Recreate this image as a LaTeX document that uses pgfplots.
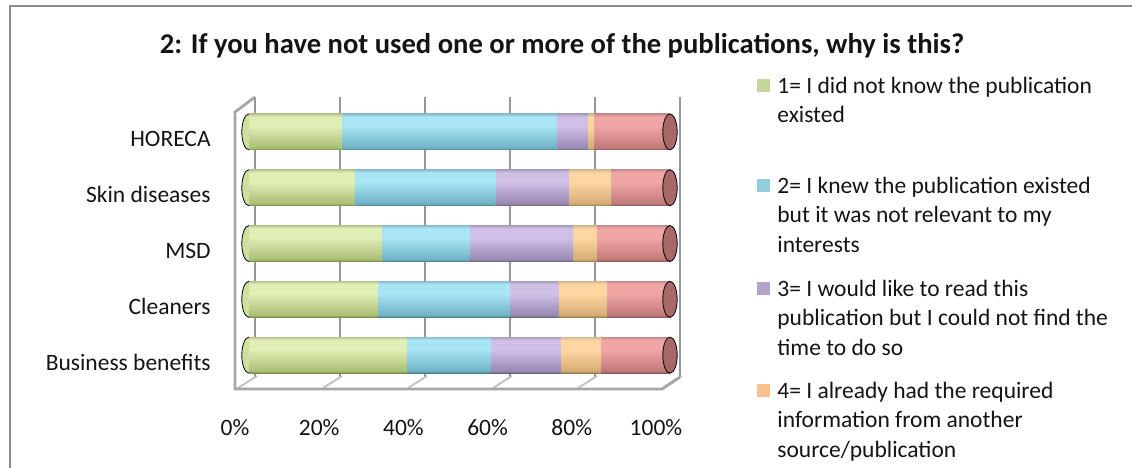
\documentclass[border=0pt]{standalone}
\usepackage{fontspec}
\setmainfont{Carlito}
\usepackage{pgfplots}
\pgfplotsset{compat=1.18}

\definecolor{gT}{RGB}{185,200,145}\definecolor{gL}{RGB}{224,239,182}\definecolor{gD}{RGB}{170,190,115}\definecolor{gE}{RGB}{120,135,80}
\definecolor{bT}{RGB}{140,190,205}\definecolor{bL}{RGB}{168,230,246}\definecolor{bD}{RGB}{112,178,198}\definecolor{bE}{RGB}{75,125,140}
\definecolor{pT}{RGB}{170,160,190}\definecolor{pL}{RGB}{207,192,230}\definecolor{pD}{RGB}{152,138,178}\definecolor{pE}{RGB}{105,95,125}
\definecolor{oT}{RGB}{215,185,140}\definecolor{oL}{RGB}{253,214,162}\definecolor{oD}{RGB}{214,172,116}\definecolor{oE}{RGB}{150,120,80}
\definecolor{rT}{RGB}{200,140,140}\definecolor{rL}{RGB}{241,166,166}\definecolor{rD}{RGB}{192,122,122}\definecolor{rE}{RGB}{135,85,85}
\definecolor{capR}{RGB}{168,104,104}
\definecolor{capG}{RGB}{205,224,158}
\definecolor{lgG}{RGB}{195,214,155}
\definecolor{lgB}{RGB}{147,205,221}
\definecolor{lgP}{RGB}{179,162,199}
\definecolor{lgO}{RGB}{250,192,144}
\definecolor{wallC}{RGB}{150,150,150}
\definecolor{frameC}{RGB}{140,140,140}
\definecolor{txt}{RGB}{20,20,20}

\pgfdeclareverticalshading{cylg}{100bp}{color(0bp)=(gE); color(25bp)=(gE); color(28bp)=(gD); color(58bp)=(gL); color(71bp)=(gL); color(75bp)=(gT); color(100bp)=(gT)}
\pgfdeclareverticalshading{cylb}{100bp}{color(0bp)=(bE); color(25bp)=(bE); color(28bp)=(bD); color(58bp)=(bL); color(71bp)=(bL); color(75bp)=(bT); color(100bp)=(bT)}
\pgfdeclareverticalshading{cylp}{100bp}{color(0bp)=(pE); color(25bp)=(pE); color(28bp)=(pD); color(58bp)=(pL); color(71bp)=(pL); color(75bp)=(pT); color(100bp)=(pT)}
\pgfdeclareverticalshading{cylo}{100bp}{color(0bp)=(oE); color(25bp)=(oE); color(28bp)=(oD); color(58bp)=(oL); color(71bp)=(oL); color(75bp)=(oT); color(100bp)=(oT)}
\pgfdeclareverticalshading{cylr}{100bp}{color(0bp)=(rE); color(25bp)=(rE); color(28bp)=(rD); color(58bp)=(rL); color(71bp)=(rL); color(75bp)=(rT); color(100bp)=(rT)}

\pgfplotsset{common/.style={
  scale only axis, width=210.5pt, height=139.5pt,
  at={(124.5pt,-191.5pt)}, anchor=south west,
  xmin=0, xmax=100, ymin=-0.5, ymax=4.5,
  clip=false, axis line style={draw=none}, tick style={draw=none},
  xtick=\empty, ytick=\empty,
}}

\newcommand{\lf}{\fontsize{11.75pt}{14.75pt}\selectfont}

% one axis per category, so that each cylinder is shaded on its own
% #1 = category position, #2..#6 = shares of answers 1..5 (percent)
\newcommand{\cylrow}[6]{%
\begin{axis}[common, xbar stacked, bar width=0.646]
  \addplot[draw=none, shade, shading=cylg] coordinates {(#2,#1)};
  \addplot[draw=none, shade, shading=cylb] coordinates {(#3,#1)};
  \addplot[draw=none, shade, shading=cylp] coordinates {(#4,#1)};
  \addplot[draw=none, shade, shading=cylo] coordinates {(#5,#1)};
  \addplot[draw=none, shade, shading=cylr] coordinates {(#6,#1)};
\end{axis}}

\begin{document}
\begin{tikzpicture}
\useasboundingbox (0,0) rectangle (566pt,-233.5pt);
\begin{scope}[x=0.5pt,y=-0.5pt]
  % outer frame (cut off on right and bottom)
  \draw[frameC, line width=1pt] (10,480) -- (10,6) -- (1140,6);
  % title
  \node[anchor=base, inner sep=0pt, text=txt, font=\bfseries\fontsize{14.3pt}{17pt}\selectfont] at (562,53)
    {2: If you have not used one or more of the publications, why is this?};
  % back wall gridlines
  \foreach \k in {0,...,5} {
    \draw[wallC, line width=1.3pt] (255+85*\k,97) -- (255+85*\k,377);
    \draw[wallC!60!white, line width=0.9pt] (257+85*\k,376) -- (238+85*\k,388);
  }
  % left wall front edge and floor edges
  \draw[wallC!85!white, line width=1.4pt] (255,97) -- (235,112) -- (235,389) -- (662,389) -- (680,377);
  % legend
  \foreach \c/\yy in {lgG/93, lgB/193, lgP/296, lgO/398}
    \fill[\c] (757,\yy-14) rectangle (770,\yy-1);
  \begin{scope}[every node/.style={anchor=base west, inner sep=0pt, text=txt, font=\lf}]
    \node at (777,93) {1= I did not know the publication};
    \node at (777,122.5) {existed};
    \node at (777,193) {2= I knew the publication existed};
    \node at (777,222.5) {but it was not relevant to my};
    \node at (777,252) {interests};
    \node at (777,296) {3= I would like to read this};
    \node at (777,325.5) {publication but I could not find the};
    \node at (777,355) {time to do so};
    \node at (777,398) {4= I already had the required};
    \node at (777,427.5) {information from another};
    \node at (777,457) {source/publication};
  \end{scope}
\end{scope}

% left end caps (behind the bars)
\begin{axis}[common]
  \addplot[only marks, mark=*, mark size=9pt, mark options={xscale=0.4, fill=capG, draw=none}]
    coordinates {(0,0) (0,1) (0,2) (0,3) (0,4)};
\end{axis}

% axis carrying the tick labels
\begin{axis}[common,
  xtick={0,20,40,60,80,100},
  xticklabels={0\%,20\%,40\%,60\%,80\%,100\%},
  ytick={0,1,2,3,4},
  yticklabels={Business benefits,Cleaners,MSD,Skin diseases,HORECA},
  xticklabel style={font=\lf, text=txt, inner sep=0pt, anchor=base, xshift=-7pt, yshift=-26pt},
  yticklabel style={font=\lf, text=txt, inner sep=0pt, anchor=base east, xshift=-19pt, yshift=-7.5pt},
]
  \addplot[draw=none, mark=none] coordinates {(0,0) (100,4)};
\end{axis}

% stacked cylinders: Business benefits, Cleaners, MSD, Skin diseases, HORECA
\cylrow{0}{37.5}{20}{16.5}{9.5}{16.5}
\cylrow{1}{30.5}{31.5}{11.5}{11.5}{15}
\cylrow{2}{31.5}{21}{24.5}{5.5}{17.5}
\cylrow{3}{25}{33.5}{17.5}{10}{14}
\cylrow{4}{22}{51}{7.5}{1.5}{18}

% right end caps
\begin{axis}[common]
  \addplot[only marks, mark=*, mark size=9pt, mark options={xscale=0.4, fill=capR, draw=none}]
    coordinates {(100,0) (100,1) (100,2) (100,3) (100,4)};
\end{axis}
\end{tikzpicture}
\end{document}
